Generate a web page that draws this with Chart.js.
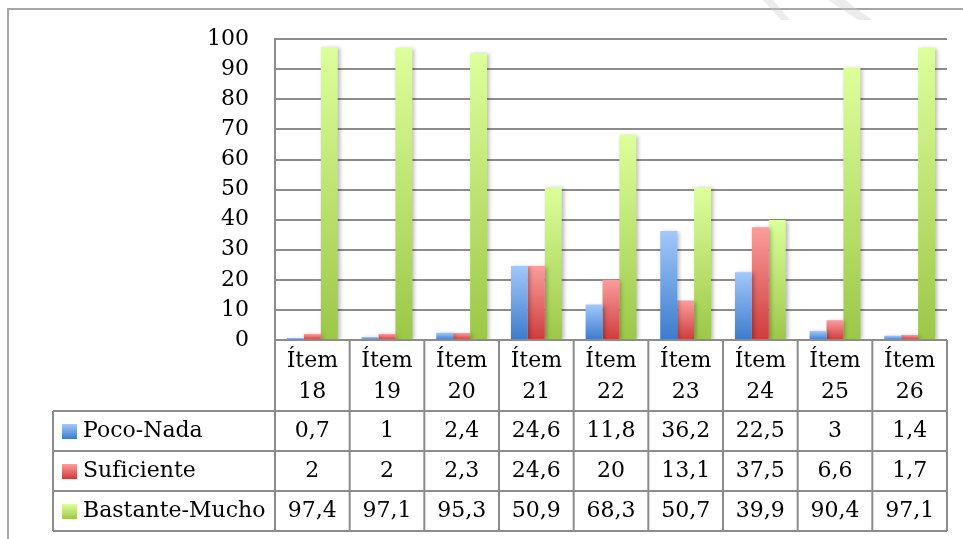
<!DOCTYPE html>
<html lang="es">
<head>
    <meta charset="UTF-8">
    <title>Ítems 18-26</title>
    <script src="https://cdn.jsdelivr.net/npm/chart.js"></script>
    <style>
        html, body {
            margin: 0;
            padding: 0;
            background: #ffffff;
        }
        #wrap {
            width: 963px;
            height: 539px;
            position: relative;
        }
    </style>
</head>
<body>
<div id="wrap"><canvas id="itemsChart"></canvas></div>

<script>
    // data
    const categories = ['Ítem 18', 'Ítem 19', 'Ítem 20', 'Ítem 21', 'Ítem 22', 'Ítem 23', 'Ítem 24', 'Ítem 25', 'Ítem 26'];
    const seriesNames = ['Poco-Nada', 'Suficiente', 'Bastante-Mucho'];
    const pocoNada = [0.7, 1, 2.4, 24.6, 11.8, 36.2, 22.5, 3, 1.4];
    const suficiente = [2, 2, 2.3, 24.6, 20, 13.1, 37.5, 6.6, 1.7];
    const bastanteMucho = [97.4, 97.1, 95.3, 50.9, 68.3, 50.7, 39.9, 90.4, 97.1];
    const yTicks = [0, 10, 20, 30, 40, 50, 60, 70, 80, 90, 100];

    const FONT = '"DejaVu Serif", serif';
    const FSIZE = 22;
    const LINE = '#8c8c8c';

    // gradient stops per series: top (light) -> bottom (dark)
    const gradStops = [
        ['#a3c8fb', '#3b7bcc'],
        ['#fb9d9d', '#cf3b3b'],
        ['#ddff9c', '#9cc747']
    ];

    function barGradient(idx) {
        return function (c) {
            const chart = c.chart;
            if (!chart.chartArea || c.raw === undefined) return gradStops[idx][1];
            const y = chart.scales.y;
            const top = y.getPixelForValue(c.raw);
            const bottom = y.getPixelForValue(0);
            const g = chart.ctx.createLinearGradient(0, top, 0, Math.max(bottom, top + 1));
            g.addColorStop(0, gradStops[idx][0]);
            g.addColorStop(1, gradStops[idx][1]);
            return g;
        };
    }

    function fmt(v) {
        return String(v).replace('.', ',');
    }

    // soft shadow behind the bars, like the original
    const shadowPlugin = {
        id: 'barShadow',
        beforeDatasetsDraw(chart) {
            const ctx = chart.ctx;
            ctx.save();
            ctx.shadowColor = 'rgba(0,0,0,0.28)';
            ctx.shadowBlur = 4;
            ctx.shadowOffsetX = 2;
            ctx.shadowOffsetY = 1;
        },
        afterDatasetsDraw(chart) {
            chart.ctx.restore();
        }
    };

    // data table under the plot + outer frame
    const tablePlugin = {
        id: 'dataTable',
        afterDraw(chart) {
            const ctx = chart.ctx;
            const area = chart.chartArea;
            const x = chart.scales.x;
            const n = categories.length;
            const colW = (area.right - area.left) / n;
            const legendLeft = 53;
            const headBottom = area.bottom + 71;
            const rowH = 40;
            const tableBottom = headBottom + rowH * 3;
            const series = [pocoNada, suficiente, bastanteMucho];

            ctx.save();

            // outer chart frame
            ctx.strokeStyle = '#a6a6a6';
            ctx.lineWidth = 2;
            ctx.beginPath();
            ctx.moveTo(8, 539);
            ctx.lineTo(8, 9);
            ctx.lineTo(963, 9);
            ctx.stroke();

            // faint watermark strokes at the top
            ctx.fillStyle = 'rgba(200,200,200,0.35)';
            ctx.beginPath();
            ctx.moveTo(763, 0); ctx.lineTo(773, 0); ctx.lineTo(790, 20); ctx.lineTo(781, 20);
            ctx.closePath();
            ctx.fill();
            ctx.beginPath();
            ctx.moveTo(828, 0); ctx.lineTo(845, 0); ctx.lineTo(872, 20); ctx.lineTo(858, 20);
            ctx.closePath();
            ctx.fill();

            // table lines
            ctx.strokeStyle = LINE;
            ctx.lineWidth = 2;
            ctx.beginPath();
            ctx.moveTo(area.left, area.bottom);
            ctx.lineTo(area.right, area.bottom);
            for (let r = 0; r <= 3; r++) {
                const yy = headBottom + r * rowH;
                ctx.moveTo(legendLeft, yy);
                ctx.lineTo(area.right, yy);
            }
            for (let i = 0; i <= n; i++) {
                const xx = area.left + i * colW;
                ctx.moveTo(xx, area.bottom);
                ctx.lineTo(xx, tableBottom);
            }
            ctx.moveTo(legendLeft, headBottom);
            ctx.lineTo(legendLeft, tableBottom);
            ctx.stroke();

            // header labels
            ctx.fillStyle = '#000';
            ctx.font = FSIZE + 'px ' + FONT;
            ctx.textAlign = 'center';
            ctx.textBaseline = 'middle';
            categories.forEach((cat, i) => {
                const cx = x.getPixelForValue(i);
                const parts = cat.split(' ');
                ctx.fillText(parts[0], cx, area.bottom + 21);
                ctx.fillText(parts[1], cx, area.bottom + 52);
            });

            // value rows
            series.forEach((vals, r) => {
                const cy = headBottom + r * rowH + rowH / 2;
                ctx.textAlign = 'center';
                vals.forEach((v, i) => {
                    ctx.fillText(fmt(v), x.getPixelForValue(i), cy);
                });

                // legend key + name
                const key = ctx.createLinearGradient(0, cy - 7, 0, cy + 8);
                key.addColorStop(0, gradStops[r][0]);
                key.addColorStop(1, gradStops[r][1]);
                ctx.fillStyle = key;
                ctx.fillRect(62, cy - 7, 15, 15);
                ctx.fillStyle = '#000';
                ctx.textAlign = 'left';
                ctx.fillText(seriesNames[r], 83, cy);
            });

            ctx.restore();
        }
    };

    const ctx = document.getElementById('itemsChart').getContext('2d');
    new Chart(ctx, {
        type: 'bar',
        data: {
            labels: categories,
            datasets: [
                { label: seriesNames[0], data: pocoNada, backgroundColor: barGradient(0) },
                { label: seriesNames[1], data: suficiente, backgroundColor: barGradient(1) },
                { label: seriesNames[2], data: bastanteMucho, backgroundColor: barGradient(2) }
            ]
        },
        options: {
            responsive: true,
            maintainAspectRatio: false,
            animation: false,
            layout: {
                padding: { left: 0, top: 38, right: 16, bottom: 199 }
            },
            datasets: {
                bar: {
                    categoryPercentage: 0.68,
                    barPercentage: 1.0,
                    borderWidth: 0
                }
            },
            plugins: {
                legend: { display: false },
                tooltip: { enabled: false }
            },
            scales: {
                x: {
                    display: false
                },
                y: {
                    min: 0,
                    max: 100,
                    afterFit(scale) { scale.width = 275; },
                    afterBuildTicks(scale) {
                        scale.ticks = yTicks.map(v => ({ value: v }));
                    },
                    border: { display: true, color: LINE, width: 2 },
                    grid: { color: LINE, lineWidth: 2, drawTicks: false },
                    ticks: {
                        color: '#000',
                        padding: 26,
                        autoSkip: false,
                        font: { family: FONT, size: FSIZE }
                    }
                }
            }
        },
        plugins: [shadowPlugin, tablePlugin]
    });
</script>
</body>
</html>
